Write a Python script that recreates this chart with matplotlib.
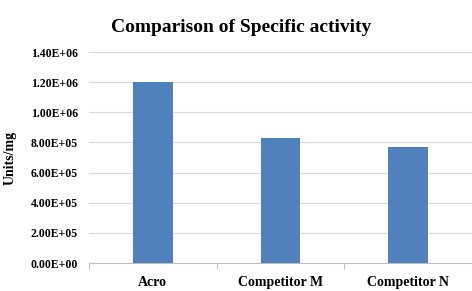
import matplotlib
matplotlib.use("Agg")
import matplotlib.pyplot as plt
from matplotlib.ticker import FuncFormatter, FixedLocator

categories = ["Acro", "Competitor M", "Competitor N"]
values = [1.20e6, 8.30e5, 7.70e5]
yticks = [0, 2e5, 4e5, 6e5, 8e5, 1.0e6, 1.2e6, 1.4e6]

plt.rcParams['font.family'] = ['Liberation Serif', 'DejaVu Serif']

fig = plt.figure(figsize=(4.72, 2.91), dpi=100)
ax = fig.add_axes([0.1886, 0.0962, 0.8114, 0.7251])

x = list(range(len(categories)))
ax.bar(x, values, width=0.31, color="#4F81BD", zorder=3)
ax.set_xlim(-0.5, len(categories) - 0.5)
ax.set_ylim(0, 1.4e6)
ax.set_yticks(yticks)
ax.yaxis.set_major_formatter(FuncFormatter(lambda v, p: ("%.2E" % v)))
ax.set_xticks(x)
ax.set_xticklabels(categories, fontsize=10, fontweight="bold")
ax.xaxis.set_minor_locator(FixedLocator([-0.5, 0.5, 1.5, 2.5]))
ax.tick_params(axis="x", which="major", length=0, pad=9)
ax.tick_params(axis="x", which="minor", length=4, color="#BFBFBF", width=0.8)
ax.tick_params(axis="y", length=0, pad=8, labelsize=8.5)
for lab in ax.get_yticklabels():
    lab.set_fontweight("bold")
ax.grid(axis="y", color="#D9D9D9", linewidth=0.8, zorder=0)
for s in ["top", "right", "left"]:
    ax.spines[s].set_visible(False)
ax.spines["bottom"].set_color("#BFBFBF")
ax.spines["bottom"].set_linewidth(0.8)
ax.set_ylabel("Units/mg", fontsize=10, fontweight="bold")
ax.yaxis.set_label_coords(-0.19, 0.5)
fig.text(0.51, 0.905, "Comparison of Specific activity", ha="center", va="center",
         fontsize=14, fontweight="bold")

fig.savefig("out.png", dpi=100)
